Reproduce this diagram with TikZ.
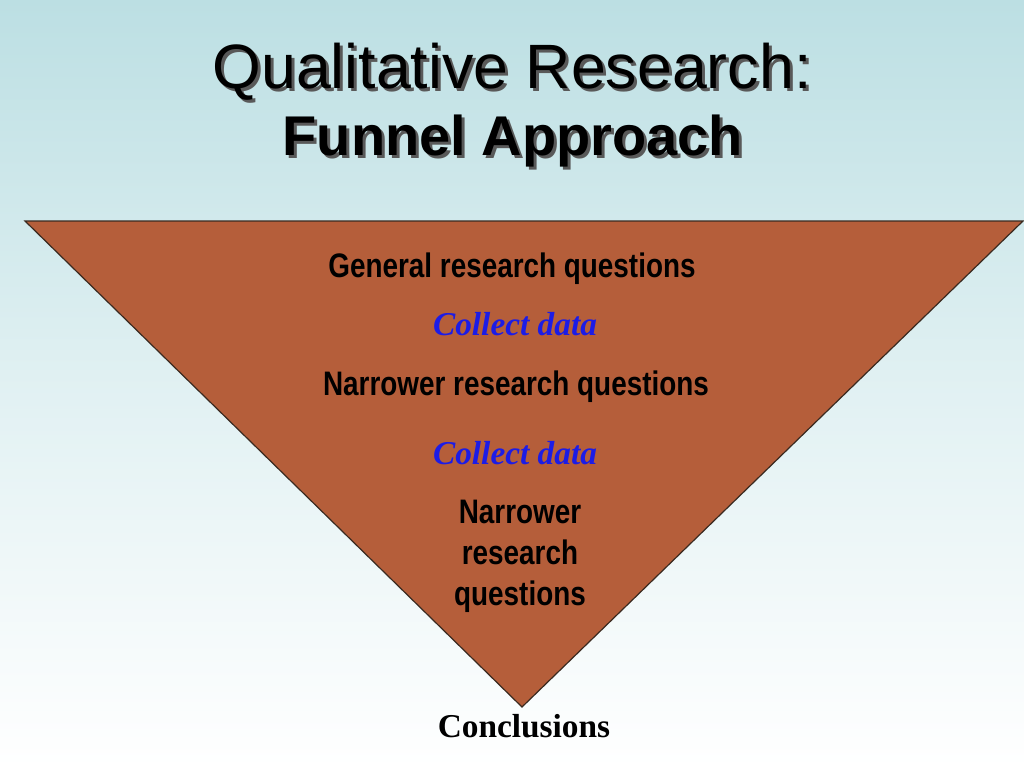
\documentclass[tikz,border=0pt]{standalone}
\usepackage{fontspec}
\setmainfont{Liberation Serif}
\setsansfont{Liberation Sans}
\newfontfamily\narrowfont{Liberation Sans}[FakeStretch=0.82]
\usepackage{xcolor}
\usetikzlibrary{positioning,calc}
\definecolor{bgtop}{HTML}{BCDFE3}
\definecolor{funnelfill}{HTML}{B55E3A}
\definecolor{funnelline}{HTML}{3A2A20}
\definecolor{stepblue}{HTML}{1C1CE6}

\begin{document}
\begin{tikzpicture}[x=0.75pt,y=-0.75pt,
    question/.style={inner sep=0pt,anchor=base,font=\narrowfont\bfseries\fontsize{25.5}{30.75}\selectfont},
    collect/.style={inner sep=0pt,anchor=base,text=stepblue,font=\bfseries\itshape\fontsize{25}{30}\selectfont},
    titletext/.style={inner sep=0pt,anchor=base}]
% Background
\shade[top color=bgtop,bottom color=white,middle color=bgtop!45] (0,0) rectangle (1024,768);
\useasboundingbox (0,0) rectangle (1024,768);

% Title with shadow
\node[titletext,text=black!65,font=\sffamily\fontsize{47}{56}\selectfont] at (515,91) {Qualitative Research:};
\node[titletext,font=\sffamily\fontsize{47}{56}\selectfont] (title) at (512,88) {Qualitative Research:};
\node[titletext,text=black!65,font=\sffamily\bfseries\fontsize{42}{50}\selectfont] at (516,158) {Funnel Approach};
\node[titletext,font=\sffamily\bfseries\fontsize{42}{50}\selectfont] (subtitle) at (513,155) {Funnel Approach};

% Funnel
\coordinate (topleft) at (25,221);
\coordinate (topright) at (1023,221);
\coordinate (apex) at (522,707);
\filldraw[fill=funnelfill,draw=funnelline,line width=0.9pt] (topleft) -- (topright) -- (apex) -- cycle;

% Steps
\node[question] (general) at (512,277) {General research questions};
\node[collect] (collect1) at (515,335) {Collect data};
\node[question] (narrow1) at (516,395) {Narrower research questions};
\node[collect] (collect2) at (515,464) {Collect data};
\node[question,align=center] (narrow2) at (520,605) {Narrower\\research\\questions};

% Result
\node[inner sep=0pt,anchor=base,font=\bfseries\fontsize{25}{30}\selectfont] (concl) at (524,737) {Conclusions};
\end{tikzpicture}
\end{document}
